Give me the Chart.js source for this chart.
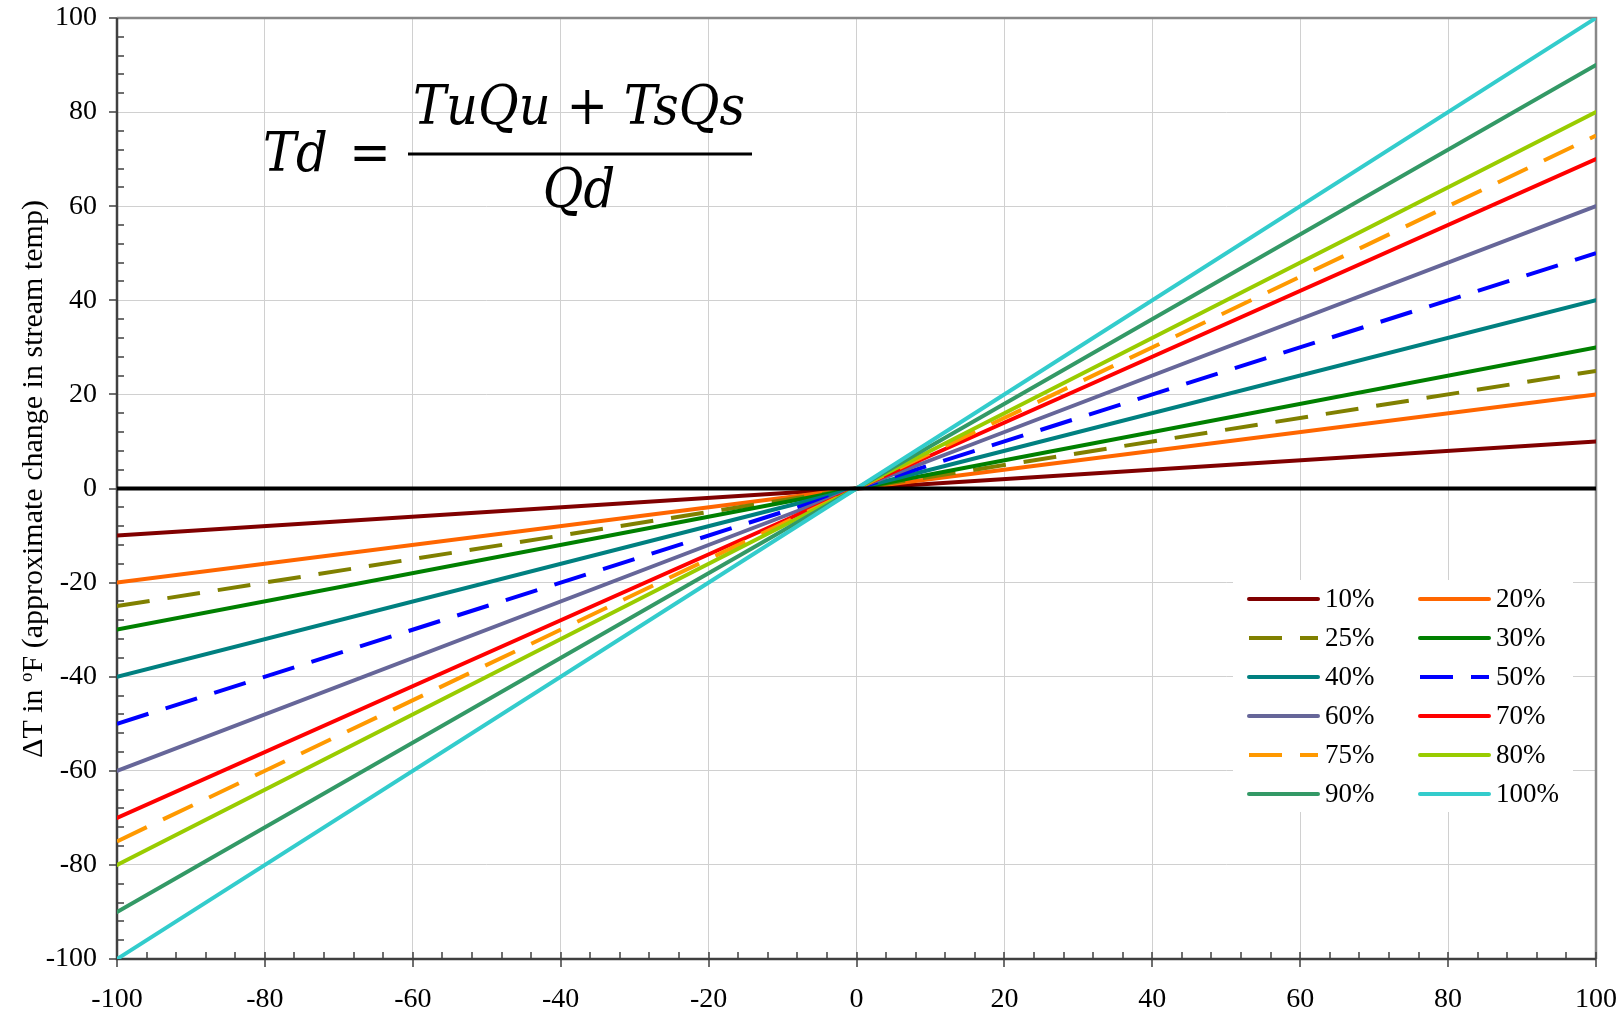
<!DOCTYPE html>
<html>
<head>
<meta charset="utf-8">
<script src="https://cdn.jsdelivr.net/npm/chart.js@4.4.0/dist/chart.umd.min.js"></script>
<style>
html, body { margin: 0; padding: 0; background: #fff; }
#wrap { width: 1620px; height: 1013px; }
</style>
</head>
<body>
<div id="wrap"><canvas id="tempChart" width="1620" height="1013" role="img" aria-label="Change in stream temperature versus temperature difference"></canvas></div>
<script>
// x positions of line ends and centre
var xVals = [-100, 0, 100];

var seriesLabels = ['10%', '20%', '25%', '30%', '40%', '50%', '60%', '70%', '75%', '80%', '90%', '100%'];
var s10  = [-10, 0, 10];
var s20  = [-20, 0, 20];
var s25  = [-25, 0, 25];
var s30  = [-30, 0, 30];
var s40  = [-40, 0, 40];
var s50  = [-50, 0, 50];
var s60  = [-60, 0, 60];
var s70  = [-70, 0, 70];
var s75  = [-75, 0, 75];
var s80  = [-80, 0, 80];
var s90  = [-90, 0, 90];
var s100 = [-100, 0, 100];
var zeroLine = [0, 0, 0];
var seriesValues = [s10, s20, s25, s30, s40, s50, s60, s70, s75, s80, s90, s100];

var seriesColors = ['#800000', '#FF6600', '#808000', '#008000', '#008080', '#0000FF',
                    '#666699', '#FF0000', '#FF9900', '#99CC00', '#339966', '#33CCCC'];
var dashedSeries = ['25%', '50%', '75%'];

var axisMin = -100, axisMax = 100, majorStep = 20, minorStep = 4;

var serif = '"Liberation Serif", "Times New Roman", serif';
var dashPattern = [33, 18];

function toPoints(vals) {
	return xVals.map(function(x, i){ return {x: x, y: vals[i]}; });
}

var datasets = [{
	label: '0%',
	data: toPoints(zeroLine),
	borderColor: '#000000',
	borderWidth: 4,
	pointRadius: 0,
	order: 0
}];
for (var i = 0; i < seriesLabels.length; i++) {
	var dashed = dashedSeries.indexOf(seriesLabels[i]) >= 0;
	datasets.push({
		label: seriesLabels[i],
		data: toPoints(seriesValues[i]),
		borderColor: seriesColors[i],
		borderWidth: 4,
		borderDash: dashed ? dashPattern : [],
		borderCapStyle: dashed ? 'butt' : 'round',
		pointRadius: 0,
		order: 20 - i
	});
}

// frame, tick marks, axis title, formula and legend
var decorations = {
	id: 'decorations',
	beforeDatasetsDraw: function(chart) {
		var ctx = chart.ctx, a = chart.chartArea;
		var xs = chart.scales.x, ys = chart.scales.y;
		ctx.save();
		// top / right border
		ctx.strokeStyle = '#888888';
		ctx.lineWidth = 2.5;
		ctx.beginPath();
		ctx.moveTo(a.left, a.top); ctx.lineTo(a.right, a.top); ctx.lineTo(a.right, a.bottom);
		ctx.stroke();
		// left / bottom axis
		ctx.strokeStyle = '#404040';
		ctx.beginPath();
		ctx.moveTo(a.left, a.top); ctx.lineTo(a.left, a.bottom); ctx.lineTo(a.right, a.bottom);
		ctx.stroke();
		ctx.lineWidth = 1.5;
		ctx.beginPath();
		for (var v = axisMin; v <= axisMax; v += minorStep) {
			var px = Math.round(xs.getPixelForValue(v));
			var py = Math.round(ys.getPixelForValue(v));
			if (v % majorStep === 0) {
				ctx.moveTo(px, a.bottom - 7); ctx.lineTo(px, a.bottom + 8);
				ctx.moveTo(a.left - 8, py); ctx.lineTo(a.left, py);
			} else {
				ctx.moveTo(px, a.bottom - 7); ctx.lineTo(px, a.bottom);
				ctx.moveTo(a.left, py); ctx.lineTo(a.left + 7, py);
			}
		}
		ctx.stroke();
		ctx.restore();
	},
	afterDraw: function(chart) {
		var ctx = chart.ctx;
		ctx.save();
		ctx.fillStyle = '#000';

		// y axis title with superscript o
		ctx.translate(42, 479);
		ctx.rotate(-Math.PI / 2);
		ctx.textBaseline = 'alphabetic';
		ctx.textAlign = 'left';
		var big = '30px ' + serif, small = '19px ' + serif;
		var p1 = '\u0394T in ', p2 = 'o', p3 = 'F (approximate change in stream temp)';
		ctx.font = big; var w1 = ctx.measureText(p1).width, w3 = ctx.measureText(p3).width;
		ctx.font = small; var w2 = ctx.measureText(p2).width;
		var sx = -(w1 + w2 + w3) / 2;
		ctx.font = big; ctx.fillText(p1, sx, 0);
		ctx.font = small; ctx.fillText(p2, sx + w1, -10);
		ctx.font = big; ctx.fillText(p3, sx + w1 + w2, 0);
		ctx.setTransform(1, 0, 0, 1, 0, 0);

		// formula, squeezed horizontally to the width of the original
		var mathFont = '"DejaVu Serif", serif';
		var fs = 54;
		ctx.font = 'italic ' + fs + 'px ' + mathFont;
		var k = 332 / ctx.measureText('TuQu + TsQs').width;
		ctx.save();
		ctx.scale(k, 1);
		ctx.textAlign = 'left';
		ctx.fillText('Td', 263 / k, 171);
		ctx.textAlign = 'center';
		ctx.fillText('TuQu + TsQs', 579 / k, 124);
		ctx.fillText('Qd', 579 / k, 207);
		ctx.font = fs + 'px ' + mathFont;
		ctx.fillText('=', 370 / k, 171);
		ctx.restore();
		ctx.fillRect(408, 152.5, 344, 3);

		// legend
		ctx.fillStyle = '#ffffff';
		ctx.fillRect(1233, 580, 340, 232);
		ctx.font = '27px ' + serif;
		ctx.textAlign = 'left';
		ctx.textBaseline = 'middle';
		for (var i = 0; i < seriesLabels.length; i++) {
			var col = i % 2, row = Math.floor(i / 2);
			var y = 599 + row * 39;
			var x0 = col === 0 ? 1249 : 1420;
			var dashed = dashedSeries.indexOf(seriesLabels[i]) >= 0;
			ctx.strokeStyle = seriesColors[i];
			ctx.lineWidth = 4;
			ctx.setLineDash(dashed ? dashPattern : []);
			ctx.lineCap = dashed ? 'butt' : 'round';
			ctx.beginPath();
			ctx.moveTo(x0, y); ctx.lineTo(x0 + 69, y);
			ctx.stroke();
			ctx.fillStyle = '#000';
			ctx.fillText(seriesLabels[i], x0 + 76, y + 1);
		}
		ctx.restore();
	}
};

new Chart(document.getElementById('tempChart'), {
	type: 'line',
	data: { datasets: datasets },
	plugins: [decorations],
	options: {
		responsive: false,
		animation: false,
		layout: { padding: { top: 18, right: 24, left: 0, bottom: 0 } },
		plugins: {
			legend: { display: false },
			tooltip: { enabled: false }
		},
		scales: {
			x: {
				type: 'linear',
				min: axisMin, max: axisMax,
				afterFit: function(scale){ scale.height = 54; scale.paddingLeft = 0; scale.paddingRight = 0; },
				border: { display: false },
				grid: { color: '#d0d0d0', lineWidth: 1, drawTicks: false },
				ticks: { stepSize: majorStep, padding: 24, color: '#000', font: { family: serif, size: 28 }, maxRotation: 0 }
			},
			y: {
				min: axisMin, max: axisMax,
				afterFit: function(scale){ scale.width = 117; scale.paddingTop = 0; scale.paddingBottom = 0; },
				border: { display: false },
				grid: { color: '#d0d0d0', lineWidth: 1, drawTicks: false },
				ticks: { stepSize: majorStep, padding: 20, color: '#000', font: { family: serif, size: 28 } }
			}
		}
	}
});
</script>
</body>
</html>
